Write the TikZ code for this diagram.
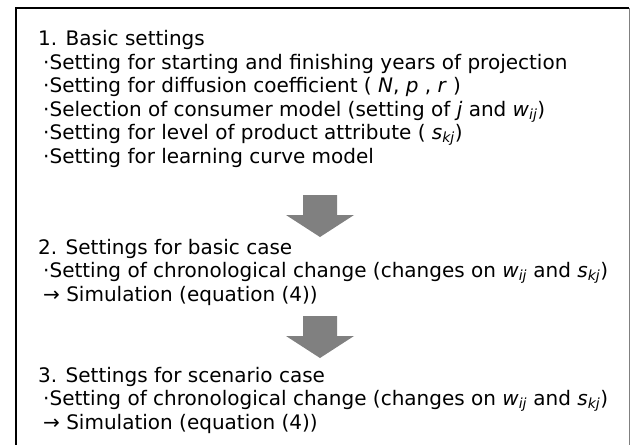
\documentclass[tikz,border=0pt]{standalone}
\usepackage{fontspec}
\setmainfont{DejaVu Sans}
\usetikzlibrary{positioning}
\newcommand{\var}[1]{\textit{#1}}
\newcommand{\sub}[1]{\textsubscript{\textit{#1}}}

\begin{document}
\begin{tikzpicture}[x=1pt,y=-1pt,
  line/.style={anchor=base west,inner sep=0pt,font=\fontsize{20}{22}\selectfont},
  bigarrow/.style={fill=black!50,draw=none}]
\useasboundingbox (0,0) rectangle (630,445);
\draw[line width=1.6pt] (16,460) -- (16,8) -- (629,8);
\draw[black!50,line width=0.8pt] (629,8) -- (629,460);
% 1. basic settings
\node[line] (head1) at (38,45) {1. Basic settings};
\node[line] (years) at (43,69) {·Setting for starting and finishing years of projection};
\node[line] (diffu) at (43,92.5) {·Setting for diffusion coefficient ( \var{N}, \var{p} , \var{r} )};
\node[line] (consu) at (43,116) {·Selection of consumer model (setting of \var{j} and \var{w}\sub{ij})};
\node[line] (attri) at (43,139.5) {·Setting for level of product attribute ( \var{s}\sub{kj})};
\node[line] (learn) at (43,163) {·Setting for learning curve model};
% 2. basic case
\node[line] (head2) at (38,254) {2. Settings for basic case};
\node[line] (chron2) at (43,277.5) {·Setting of chronological change (changes on \var{w}\sub{ij} and \var{s}\sub{kj})};
\node[line] (simu2) at (43,301) {→ Simulation (equation (4))};
% 3. scenario case
\node[line] (head3) at (38,382) {3. Settings for scenario case};
\node[line] (chron3) at (43,405.5) {·Setting of chronological change (changes on \var{w}\sub{ij} and \var{s}\sub{kj})};
\node[line] (simu3) at (43,429) {→ Simulation (equation (4))};
% block arrows
\coordinate (arr1) at (320,195);
\coordinate (arr2) at (320,316);
\foreach \a in {arr1,arr2} {
\fill[bigarrow] (\a) ++(-17,0) -- ++(34,0) -- ++(0,20) -- ++(17,0)
  -- ++(-34,22) -- ++(-34,-22) -- ++(17,0) -- cycle;
}
\end{tikzpicture}
\end{document}
